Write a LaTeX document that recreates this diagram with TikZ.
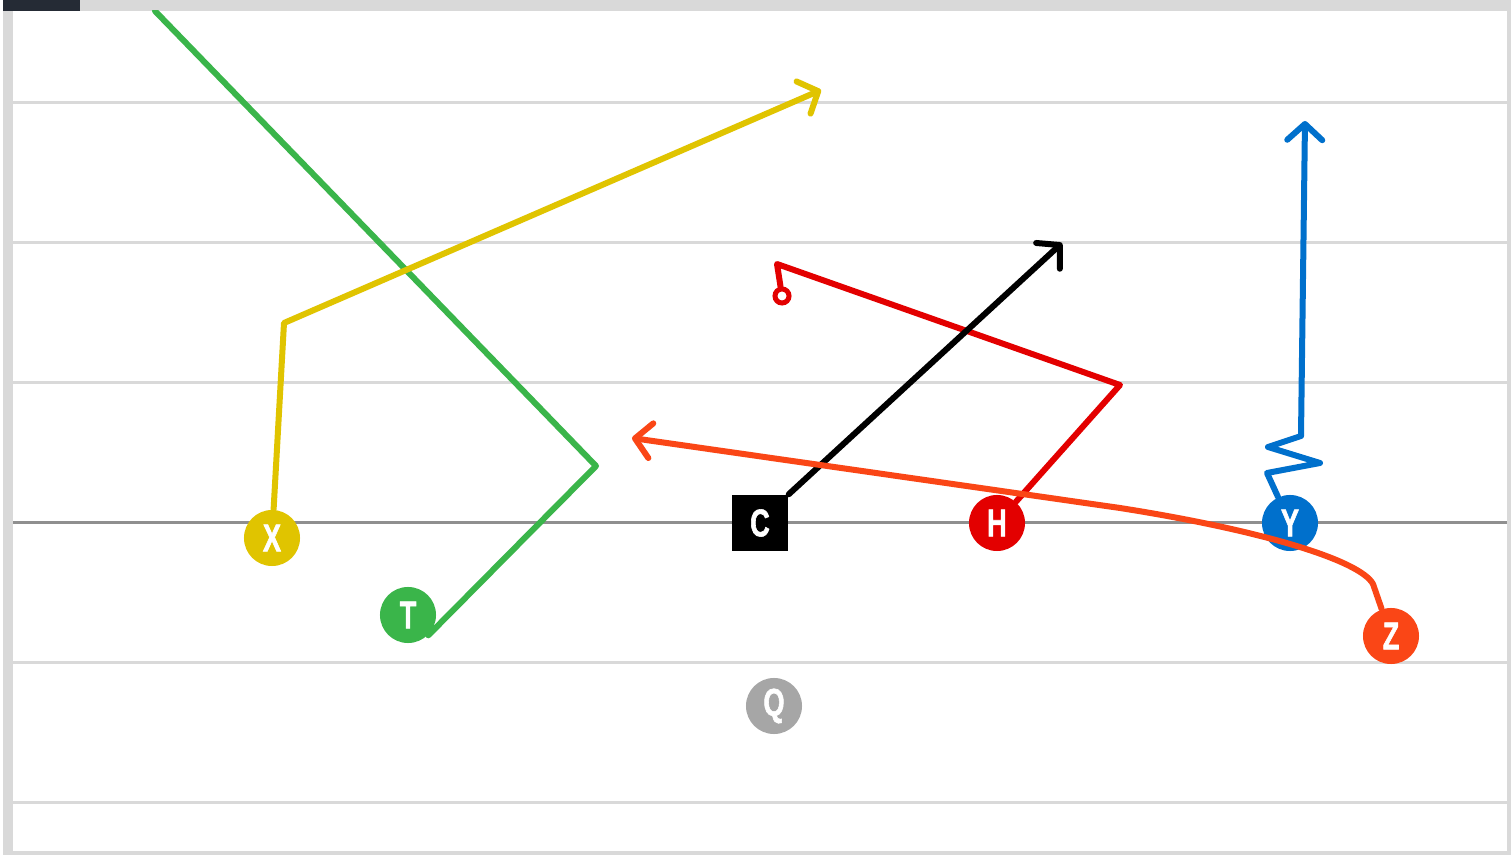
\documentclass[tikz,border=0pt]{standalone}
\usepackage{fontspec}
\usepackage{tikz}
\usetikzlibrary{arrows.meta}
\newfontfamily\playerfont{Liberation Sans}[FakeStretch=0.7, FakeBold=1.5]
\definecolor{fieldgray}{HTML}{D9D9D9}
\definecolor{scrimgray}{HTML}{8F8F8F}
\definecolor{tabdark}{HTML}{252B35}
\definecolor{xyellow}{HTML}{E0C400}
\definecolor{tgreen}{HTML}{3AB54A}
\definecolor{hred}{HTML}{E30000}
\definecolor{yblue}{HTML}{0070CC}
\definecolor{zorange}{HTML}{FA4616}
\definecolor{qgray}{HTML}{A6A6A6}
\tikzset{
    player/.style={circle, minimum size=5.6mm, inner sep=0pt, text=white, font=\playerfont\bfseries\fontsize{11pt}{11pt}\selectfont},
    yardline/.style={fieldgray, line width=0.3mm},
    scrimline/.style={scrimgray, line width=0.3mm},
    route/.style={line width=0.6mm, line cap=round, line join=round},
    routearr/.style={route, -{Straight Barb[length=1.6mm,width=3.5mm,round]}},
    routestop/.style={circle, draw=hred, fill=white, line width=0.5mm, minimum size=1.4mm, inner sep=0pt},
}

\begin{document}
\begin{tikzpicture}[x=0.01cm, y=-0.01cm]
\useasboundingbox (0,0) rectangle (1511,855);
% Field frame
\fill[fieldgray] (3,0) rectangle (1511,855);
\fill[white] (13,11) rectangle (1507,851);
\fill[tabdark] (3,0) rectangle (80,11);

% Yard lines
\foreach \yy in {103,243,383,663,803}
  \draw[yardline] (13,\yy) -- (1507,\yy);
\draw[scrimline] (13,523) -- (1507,523);

% Players
\node[player,fill=xyellow] (X) at (272,538) {X};
\node[player,fill=tgreen] (T) at (408,615) {T};
\node[player,rectangle,fill=black] (C) at (760,523) {C};
\node[player,fill=hred] (H) at (997,523) {H};
\node[player,fill=yblue] (Y) at (1290,523) {Y};
\node[player,fill=zorange] (Z) at (1391,636) {Z};
\node[player,fill=qgray] (Q) at (774,706) {Q};

% Route points
\coordinate (xBreak) at (284,323);
\coordinate (xEnd) at (821,90);
\coordinate (tBreak) at (596,466);
\coordinate (tEnd) at (155,11);
\coordinate (cEnd) at (1062,243);
\coordinate (hBreak) at (1120,385);
\coordinate (hTurn) at (777,264);
\node[routestop] (hEnd) at (782,296) {};
\coordinate (yStep1) at (1267,473);
\coordinate (yStep2) at (1320,463);
\coordinate (yStep3) at (1268,447);
\coordinate (yStep4) at (1301,436);
\coordinate (yEnd) at (1305,121);
\coordinate (zBend) at (1373,584);
\coordinate (zFlat) at (1120,508);
\coordinate (zEnd) at (632,438);

% Routes
\begin{scope}
\clip (13,11) rectangle (1507,851);
\draw[route,tgreen] (T.-45) -- (tBreak) -- (tEnd);
\draw[routearr,xyellow] (X) -- (xBreak) -- (xEnd);
\draw[route,hred] (H) -- (hBreak) -- (hTurn) -- (hEnd);
\draw[routearr,black] (C.north east) -- (cEnd);
\draw[routearr,yblue] (Y) -- (yStep1) -- (yStep2) -- (yStep3) -- (yStep4) -- (yEnd);
\draw[routearr,zorange] (Z) -- (zBend) .. controls (1360,560) and (1260,530) .. (zFlat) -- (zEnd);
\end{scope}
\end{tikzpicture}
\end{document}
